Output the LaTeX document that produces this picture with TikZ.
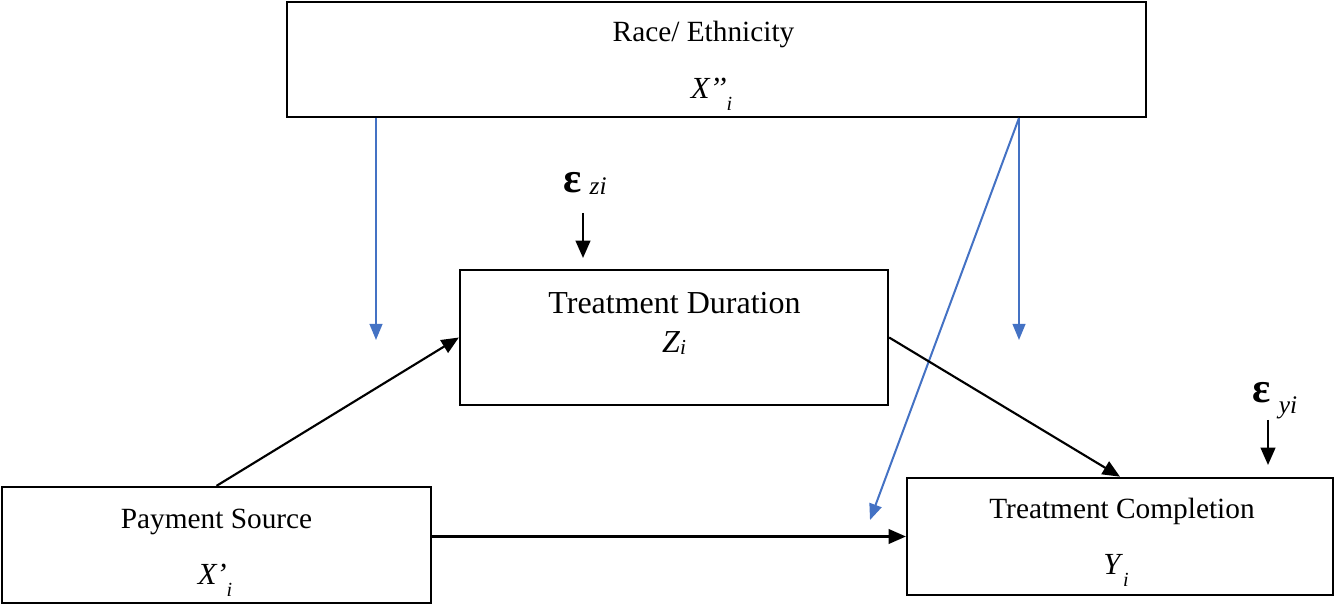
\documentclass[tikz,border=0pt]{standalone}
\usepackage{fontspec}
\setmainfont{Liberation Serif}
\usetikzlibrary{positioning, arrows.meta}

\definecolor{modblue}{RGB}{68,114,196}
\newcommand{\lowsub}[2]{\textit{#1}\raisebox{-9pt}{\fontsize{15}{17}\selectfont\itshape #2}}

\begin{document}
\begin{tikzpicture}[x=0.75pt, y=-0.75pt,
    box/.style={draw, line width=1.7pt, rectangle, inner sep=0pt},
    lbl/.style={inner sep=0pt, anchor=base, font=\fontsize{22}{26}\selectfont},
    var/.style={inner sep=0pt, anchor=base, font=\fontsize{23}{27}\selectfont},
    err/.style={inner sep=0pt, anchor=base},
    path/.style={-{Triangle[length=13pt,width=11pt]}, line width=1.6pt},
    mod/.style={-{Triangle[length=12pt,width=9.5pt]}, line width=1.5pt, modblue}]
    \useasboundingbox (0,0) rectangle (1335,605);

    % Boxes
    \node[box, minimum width=644pt, minimum height=86pt] (race) at (716.5,59.5) {};
    \node[box, minimum width=321pt, minimum height=101pt] (dur) at (674,337.5) {};
    \node[box, minimum width=322pt, minimum height=87pt] (pay) at (216.5,545) {};
    \node[box, minimum width=319.5pt, minimum height=88pt] (comp) at (1120,536.5) {};

    % Texts in boxes
    \node[lbl] (racename) at (703.5,42) {Race/ Ethnicity};
    \node[var] (racevar) at (711.5,99) {\lowsub{X’’}{i}};
    \node[lbl, font=\fontsize{24}{28}\selectfont] (durname) at (674.5,314) {Treatment Duration};
    \node[lbl, font=\fontsize{24}{28}\selectfont] (durvar) at (674,353) {\textit{Z}\raisebox{-1pt}{\fontsize{16}{18}\selectfont\itshape i}};
    \node[lbl] (payname) at (216.5,528) {Payment Source};
    \node[var] (payvar) at (215,585) {\lowsub{X’}{i}};
    \node[lbl] (compname) at (1122,518) {Treatment Completion};
    \node[var] (compvar) at (1116,575) {\lowsub{Y}{i}};

    % Error terms
    \node[err] (errz) at (585,193) {{\fontsize{32}{34}\selectfont\textbf{ε}}\hspace{6pt}\raisebox{-1pt}{\fontsize{19}{21}\selectfont\itshape zi}};
    \node[err] (erry) at (1275,403) {{\fontsize{32}{34}\selectfont\textbf{ε}}\hspace{6pt}\raisebox{-8pt}{\fontsize{19}{21}\selectfont\itshape yi}};
    \coordinate (errzend) at (583,258);
    \coordinate (erryend) at (1268,465);
    \draw[path] (errzend |- 0,213) -- (errzend);
    \draw[path] (erryend |- 0,420) -- (erryend);

    % Moderation arrows
    \coordinate (modleft) at (376,340);
    \coordinate (modright) at (1019,340);
    \coordinate (moddirect) at (870,520);
    \draw[mod] (race.south -| modleft) -- (modleft);
    \draw[mod] (race.south -| modright) -- (modright);
    \draw[mod] (race.south -| modright) -- (moddirect);

    % Paths
    \draw[path] (pay.north) -- (dur.west);
    \draw[path] (pay.east |- comp.west) -- (comp.west);
    \draw[path] (dur.east) -- (comp.north);
\end{tikzpicture}
\end{document}
